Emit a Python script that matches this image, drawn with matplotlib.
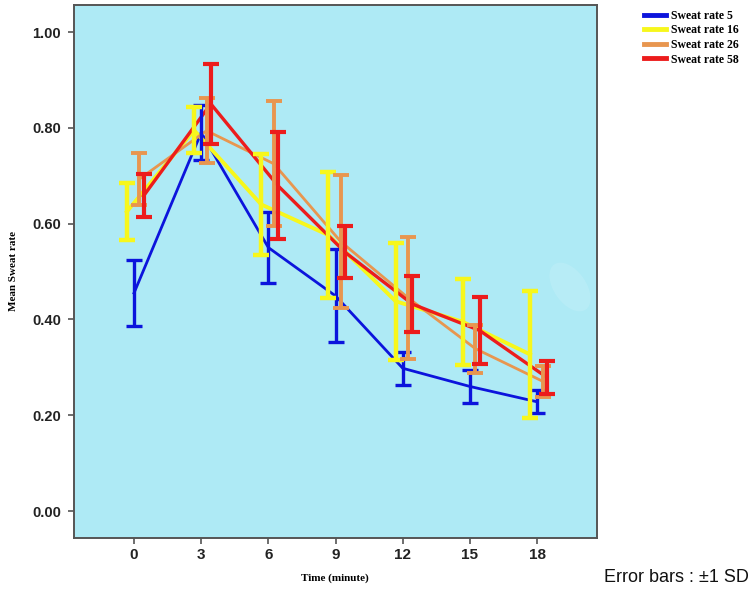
import matplotlib
matplotlib.use("Agg")
import matplotlib.pyplot as plt
from matplotlib.patches import Ellipse
import numpy as np

time = [0, 3, 6, 9, 12, 15, 18]
series_names = ["Sweat rate 5", "Sweat rate 16", "Sweat rate 26", "Sweat rate 58"]
mean_sr5 = [0.455, 0.790, 0.550, 0.449, 0.298, 0.260, 0.228]
sd_sr5 = [0.068, 0.057, 0.075, 0.097, 0.034, 0.035, 0.024]
mean_sr16 = [0.625, 0.795, 0.640, 0.576, 0.438, 0.395, 0.327]
sd_sr16 = [0.060, 0.048, 0.105, 0.132, 0.122, 0.090, 0.132]
mean_sr26 = [0.693, 0.794, 0.725, 0.562, 0.445, 0.339, 0.271]
sd_sr26 = [0.055, 0.068, 0.131, 0.139, 0.128, 0.050, 0.032]
mean_sr58 = [0.658, 0.850, 0.679, 0.540, 0.432, 0.377, 0.279]
sd_sr58 = [0.045, 0.083, 0.112, 0.054, 0.058, 0.070, 0.035]
yticks = [0.0, 0.2, 0.4, 0.6, 0.8, 1.0]

colors = ["#0c14dc", "#f7f71c", "#e8964f", "#ec1c1c"]
offsets = [0.0, -0.32, 0.24, 0.43]
line_w = [2.0, 2.8, 2.0, 2.4]
err_w = [2.4, 3.2, 2.8, 3.0]
means = [mean_sr5, mean_sr16, mean_sr26, mean_sr58]
sds = [sd_sr5, sd_sr16, sd_sr26, sd_sr58]

fig = plt.figure(figsize=(7.52, 5.92), dpi=100)
ax = fig.add_axes([74.3 / 752, 1 - 537.5 / 592, (596.5 - 74.3) / 752, (537.5 - 5) / 592])
ax.set_facecolor("#aeeaf5")

t = np.array(time, dtype=float)
handles = []
for i in range(4):
    x = t + offsets[i]
    ln, = ax.plot(x, means[i], color=colors[i], lw=line_w[i], zorder=2 + i * 0.1,
                  label=series_names[i])
    ax.errorbar(x, means[i], yerr=sds[i], fmt="none", ecolor=colors[i],
                elinewidth=err_w[i], capsize=5.8, capthick=err_w[i], zorder=3 + i * 0.1)
    handles.append(ln)

# faint glare artifact
ax.add_patch(Ellipse((5.70, 3.05), 0.32, 0.55, angle=35, facecolor="white",
                     alpha=0.12, edgecolor="none", zorder=1,
                     transform=fig.dpi_scale_trans))

ax.set_xlim(-2.665, 20.65)
ax.set_ylim(-0.0553, 1.0564)
ax.set_xticks(time)
ax.set_xticklabels([str(v) for v in time], fontsize=11, family="Liberation Sans",
                   fontweight="bold", color="#222222")
ax.set_yticks(yticks)
ax.set_yticklabels([f"{v:.2f}" for v in yticks], fontsize=10.5, family="Liberation Sans",
                   fontweight="bold", color="#222222")
ax.tick_params(axis="y", length=4.5, width=1.2, pad=5, color="#555555")
ax.tick_params(axis="x", length=4, width=1.2, pad=3.5, color="#555555")
for s in ax.spines.values():
    s.set_color("#555555")
    s.set_linewidth(1.4)

fig.text(14 / 752, 1 - 271 / 592, "Mean Sweat rate", rotation=90, ha="center", va="center",
         family="Liberation Serif", fontweight="bold", fontsize=8)
fig.text(335 / 752, 1 - 578 / 592, "Time (minute)", ha="center", va="center",
         family="Liberation Serif", fontweight="bold", fontsize=8)
fig.text(749 / 752, 1 - 578 / 592, "Error bars : \u00b11 SD", ha="right", va="center",
         family="Liberation Sans", fontsize=13, color="#111111")

leg = fig.legend(handles=handles, loc="upper left", bbox_to_anchor=(639 / 752, 1 - 5 / 592),
                 frameon=False, prop={"family": "Liberation Serif", "weight": "bold", "size": 8.5},
                 handlelength=1.9, handletextpad=0.4, labelspacing=0.22, borderaxespad=0)
for h in leg.legend_handles:
    h.set_linewidth(3.5)

fig.savefig("out.png", dpi=100)
